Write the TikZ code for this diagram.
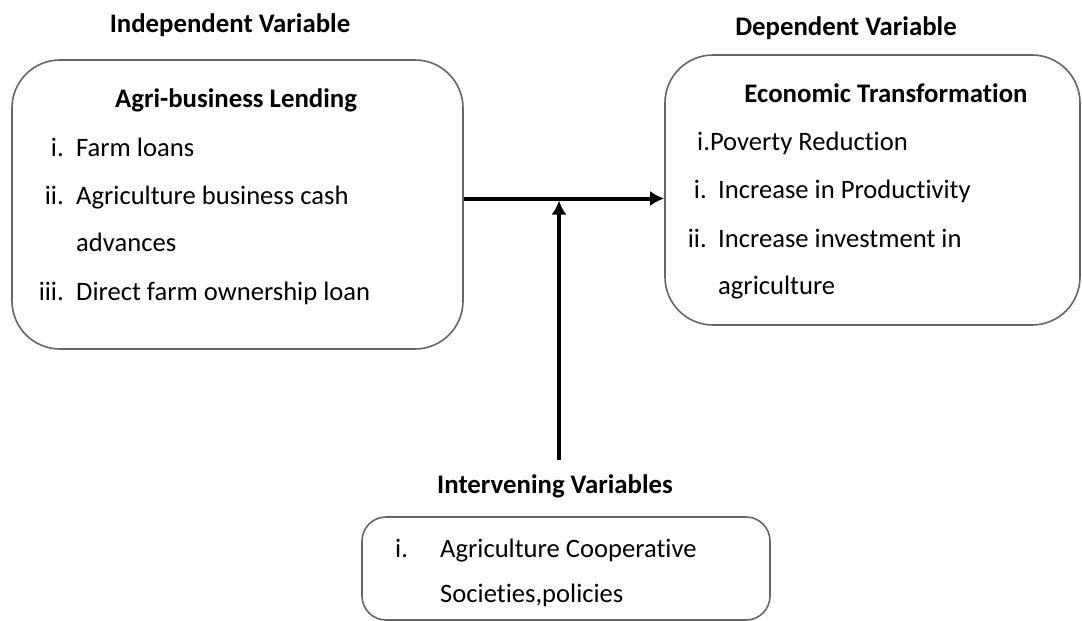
\documentclass[tikz,border=0pt]{standalone}
\usepackage{fontspec}
\setmainfont[RawFeature={-liga}]{Carlito}
\usetikzlibrary{arrows.meta}
\begin{document}
\begin{tikzpicture}[x=1pt,y=-1pt,
  box/.style={draw=black!60, line width=1.6pt, rounded corners=48pt, inner sep=0pt},
  sbox/.style={draw=black!60, line width=1.6pt, rounded corners=24pt, inner sep=0pt},
  txt/.style={anchor=base west, inner sep=0pt, font=\fontsize{26.6}{31}\selectfont},
  num/.style={anchor=base east, inner sep=0pt, font=\fontsize{26.6}{31}\selectfont},
  ttl/.style={anchor=base, inner sep=0pt, font=\fontsize{26.8}{31}\selectfont\bfseries},
  conn/.style={line width=4pt, -{Latex[length=14pt,width=15pt]}}
]
\useasboundingbox[fill=white] (0,0) rectangle (1082,621);

% boxes
\node[box, minimum width=451pt, minimum height=289pt] (L) at (237.5,204.5) {};
\node[box, minimum width=415pt, minimum height=270pt] (R) at (872.5,190) {};
\node[sbox, minimum width=408pt, minimum height=103pt] (B) at (566,568.5) {};

% headings
\node[ttl] (hL) at (230,32) {Independent Variable};
\node[ttl] (hR) at (846,35) {Dependent Variable};
\node[ttl] (hB) at (555,493) {Intervening Variables};

% left box text
\node[ttl] (tL) at (236,107) {Agri-business Lending};
\node[num] (l1n) at (64,156) {i.};
\node[txt] (l1) at (76,156) {Farm loans};
\node[num] (l2n) at (64,204) {ii.};
\node[txt] (l2) at (76,204) {Agriculture business cash};
\node[txt] (l2b) at (76,251) {advances};
\node[num] (l3n) at (64,300) {iii.};
\node[txt] (l3) at (76,300) {Direct farm ownership loan};

% right box text
\node[ttl] (tR) at (886,102) {Economic Transformation};
\node[txt] (r0) at (697,150) {i.Poverty Reduction};
\node[num] (r1n) at (707,198) {i.};
\node[txt] (r1) at (718,198) {Increase in Productivity};
\node[num] (r2n) at (707,247) {ii.};
\node[txt] (r2) at (718,247) {Increase investment in};
\node[txt] (r2b) at (718,294) {agriculture};

% bottom box text
\node[txt] (b1n) at (395,557) {i.};
\node[txt] (b1) at (440,557) {Agriculture Cooperative};
\node[txt] (b1b) at (440,602) {Societies,policies};

% connectors
\coordinate (hy) at (0,198.5);
\coordinate (vb) at (559,460);
\draw[conn] (L.east |- hy) -- (R.west |- hy);
\draw[conn, shorten >=2pt] (vb) -- (vb |- hy);
\end{tikzpicture}
\end{document}
